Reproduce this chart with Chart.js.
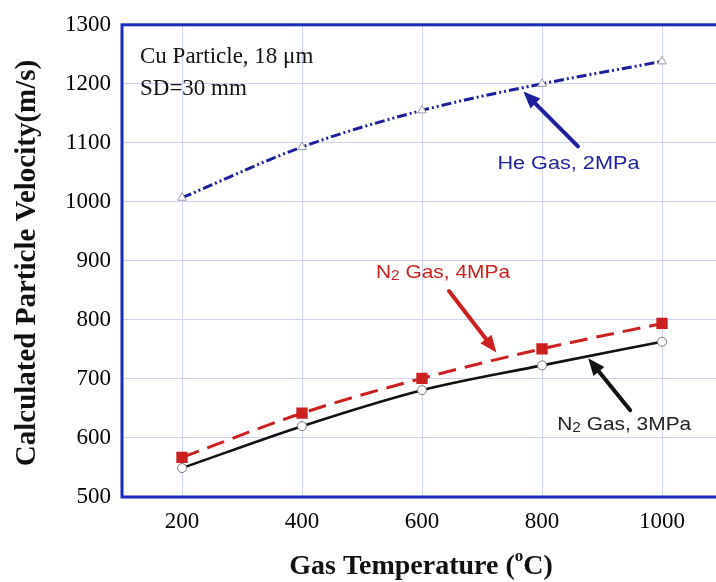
<!DOCTYPE html>
<html><head><meta charset="utf-8">
<script src="https://cdn.jsdelivr.net/npm/chart.js@4/dist/chart.umd.min.js"></script>
<style>html,body{margin:0;padding:0;overflow:hidden;background:#fff}#wrap{width:730px;height:582px;position:relative}</style>
</head><body><div id="wrap"><canvas id="c"></canvas></div>
<script>
const temps = [200, 400, 600, 800, 1000];
const heVel = [1007, 1093, 1155, 1200, 1238];
const n2Vel4 = [567, 642, 701, 751, 794];
const n2Vel3 = [549, 620, 681, 723, 763];
const yTicks = [500, 600, 700, 800, 900, 1000, 1100, 1200, 1300];
const xTicks = [200, 400, 600, 800, 1000];
const yTitle = 'Calculated Particle Velocity(m/s)';
const xTitleA = 'Gas Temperature (';
const xTitleSup = 'o';
const xTitleB = 'C)';
const noteLine1 = 'Cu Particle, 18 \u03BCm';
const noteLine2 = 'SD=30 mm';
const heLabel = 'He Gas, 2MPa';
const n24Label = ['N', '2', ' Gas, 4MPa'];
const n23Label = ['N', '2', ' Gas, 3MPa'];

const toPts = (xs, ys) => xs.map((x, i) => ({x: x, y: ys[i]}));
const BLUE = '#1b1f9c';
const RED = '#cc1f1f';

function arrow(ctx, x1, y1, x2, y2, color) {
  const ang = Math.atan2(y2 - y1, x2 - x1);
  const hl = 17, hw = 7;
  const bx = x2 - hl * Math.cos(ang), by = y2 - hl * Math.sin(ang);
  ctx.save();
  ctx.strokeStyle = color; ctx.fillStyle = color; ctx.lineWidth = 4; ctx.lineCap = 'round';
  ctx.beginPath(); ctx.moveTo(x1, y1); ctx.lineTo(bx, by); ctx.stroke();
  ctx.beginPath();
  ctx.moveTo(x2, y2);
  ctx.lineTo(bx + hw * Math.sin(ang), by - hw * Math.cos(ang));
  ctx.lineTo(bx - hw * Math.sin(ang), by + hw * Math.cos(ang));
  ctx.closePath(); ctx.fill();
  ctx.restore();
}
function stretchedText(ctx, parts, cx, cy, font, smallFont, color, sx) {
  ctx.save();
  ctx.fillStyle = color; ctx.textBaseline = 'middle'; ctx.textAlign = 'left';
  let w = 0;
  const fonts = parts.length === 1 ? [font] : [font, smallFont, font];
  parts.forEach((p, i) => { ctx.font = fonts[i]; w += ctx.measureText(p).width; });
  ctx.translate(cx, cy); ctx.scale(sx, 1);
  let x = -w / 2;
  parts.forEach((p, i) => {
    ctx.font = fonts[i];
    ctx.fillText(p, x, (parts.length > 1 && i === 1) ? 3 : 0);
    x += ctx.measureText(p).width;
  });
  ctx.restore();
}

const frame = {
  id: 'frame',
  beforeDatasetsDraw(chart) {
    const {ctx, chartArea: a} = chart;
    ctx.save(); ctx.strokeStyle = '#1a2bc0'; ctx.lineWidth = 3;
    ctx.strokeRect(a.left, a.top, a.right - a.left, a.bottom - a.top);
    ctx.restore();
  },
  afterDraw(chart) {
    const {ctx} = chart;
    const xs = chart.scales.x, ys = chart.scales.y;
    const P = (x, y) => [xs.getPixelForValue(x), ys.getPixelForValue(y)];
    // axis titles
    ctx.save();
    ctx.fillStyle = '#111';
    ctx.font = 'bold 29px "Liberation Serif"';
    ctx.textBaseline = 'alphabetic'; ctx.textAlign = 'center';
    ctx.translate(35, 263); ctx.rotate(-Math.PI / 2);
    ctx.fillText(yTitle, 0, 0);
    ctx.restore();
    ctx.save();
    ctx.fillStyle = '#111'; ctx.textBaseline = 'alphabetic'; ctx.textAlign = 'left';
    const f1 = 'bold 28px "Liberation Serif"', f2 = 'bold 17px "Liberation Serif"';
    ctx.font = f1; const wa = ctx.measureText(xTitleA).width, wb = ctx.measureText(xTitleB).width;
    ctx.font = f2; const ws = ctx.measureText(xTitleSup).width;
    let x0 = 421 - (wa + ws + wb) / 2;
    const base = 574;
    ctx.font = f1; ctx.fillText(xTitleA, x0, base);
    ctx.font = f2; ctx.fillText(xTitleSup, x0 + wa, base - 13);
    ctx.font = f1; ctx.fillText(xTitleB, x0 + wa + ws, base);
    ctx.restore();
    // notes
    ctx.save();
    ctx.fillStyle = '#111'; ctx.font = '23px "Liberation Serif"';
    ctx.textBaseline = 'middle'; ctx.textAlign = 'left';
    let p = P(130, 1246); ctx.fillText(noteLine1, p[0], p[1]);
    p = P(130, 1192); ctx.fillText(noteLine2, p[0], p[1]);
    ctx.restore();
    // annotations
    let t = P(860, 1094), h = P(769, 1187);
    arrow(ctx, t[0], t[1], h[0], h[1], BLUE);
    p = P(844, 1064);
    stretchedText(ctx, [heLabel], p[0], p[1], '19px "Liberation Sans"', null, BLUE, 1.14);
    t = P(645, 849); h = P(724, 745);
    arrow(ctx, t[0], t[1], h[0], h[1], RED);
    p = P(635, 880);
    stretchedText(ctx, n24Label, p[0], p[1], '19px "Liberation Sans"', '14px "Liberation Sans"', RED, 1.1);
    t = P(947, 647); h = P(877, 735);
    arrow(ctx, t[0], t[1], h[0], h[1], '#111');
    p = P(937, 622);
    stretchedText(ctx, n23Label, p[0], p[1], '19px "Liberation Sans"', '14px "Liberation Sans"', '#222', 1.1);
  }
};

new Chart(document.getElementById('c'), {
  type: 'line',
  data: {
    datasets: [
      {label: 'N2 Gas, 3MPa', data: toPts(temps, n2Vel3), borderColor: '#111', borderWidth: 2.6,
       pointStyle: 'circle', pointRadius: 4.5, pointBackgroundColor: '#fff', pointBorderColor: '#777', pointBorderWidth: 1,
       cubicInterpolationMode: 'monotone'},
      {label: 'N2 Gas, 4MPa', data: toPts(temps, n2Vel4), borderColor: RED, borderWidth: 3, borderDash: [18, 9],
       pointStyle: 'rect', pointRadius: 8, pointBackgroundColor: RED, pointBorderColor: RED, pointBorderWidth: 0,
       cubicInterpolationMode: 'monotone'},
      {label: 'He Gas, 2MPa', data: toPts(temps, heVel), borderColor: BLUE, borderWidth: 3, borderDash: [10, 3, 2, 3, 2, 3],
       pointStyle: 'triangle', pointRadius: 5, pointBackgroundColor: '#fff', pointBorderColor: '#99a', pointBorderWidth: 1,
       cubicInterpolationMode: 'monotone'}
    ]
  },
  options: {
    responsive: true, maintainAspectRatio: false, animation: false,
    layout: {padding: {top: 23, right: 5, left: 0, bottom: 0}},
    plugins: {legend: {display: false}, tooltip: {enabled: false}},
    scales: {
      x: {type: 'linear', min: 100, max: 1100,
          afterBuildTicks: s => { s.ticks = xTicks.map(v => ({value: v})); },
          afterFit: s => { s.height = 85; },
          grid: {color: '#cfd2f0', lineWidth: 1, drawTicks: false},
          border: {display: false},
          ticks: {color: '#000', font: {family: 'Liberation Serif', size: 23}, padding: 11, callback: v => String(v)}},
      y: {min: 500, max: 1300,
          afterBuildTicks: s => { s.ticks = yTicks.map(v => ({value: v})); },
          afterFit: s => { s.width = 122; },
          grid: {color: '#cfd2f0', lineWidth: 1, drawTicks: false},
          border: {display: false},
          ticks: {color: '#000', font: {family: 'Liberation Serif', size: 23}, padding: 11, callback: v => String(v)}}
    }
  },
  plugins: [frame]
});
</script></body></html>
